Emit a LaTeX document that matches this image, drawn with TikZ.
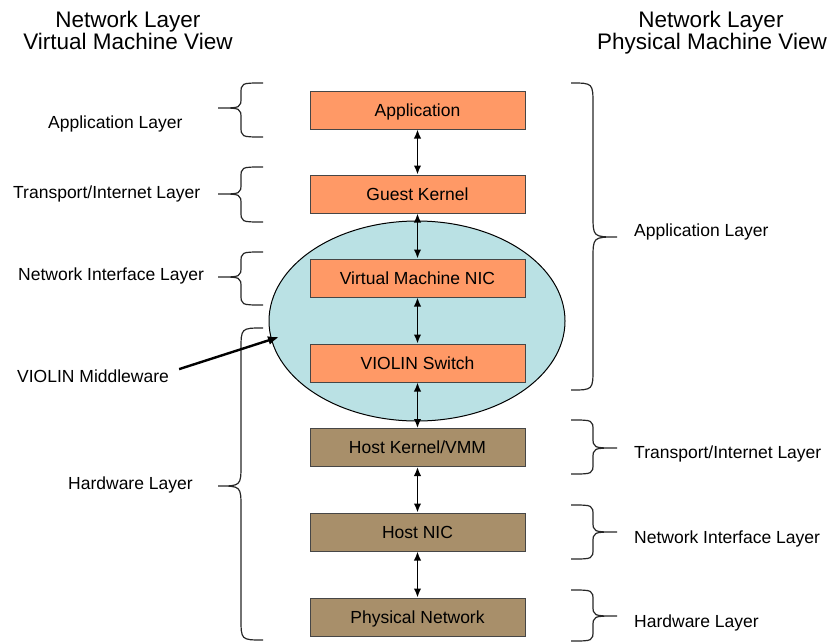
\documentclass[tikz,border=0pt]{standalone}
\usepackage{fontspec}
\setmainfont{Liberation Sans}
\usetikzlibrary{shapes.geometric,arrows.meta}

\definecolor{guestfill}{RGB}{255,153,102}
\definecolor{hostfill}{RGB}{168,143,106}
\definecolor{violinfill}{RGB}{186,225,228}
\definecolor{boxline}{RGB}{70,70,70}

% vertical curly brace: end x, spine x, tip x, top y, tip y, bottom y, curl radius
\newcommand{\VBrace}[7]{%
  \draw[bracestyle] (#1,#4) .. controls (#2,#4) .. (#2,#4+#7)
    -- (#2,#5-#7) .. controls (#2,#5) .. (#3,#5)
    .. controls (#2,#5) .. (#2,#5+#7)
    -- (#2,#6-#7) .. controls (#2,#6) .. (#1,#6);}

\tikzset{
  layerbox/.style={draw=boxline, line width=1pt, minimum width=215pt,
    minimum height=38pt, inner sep=0pt, text height=12.7pt, text depth=0pt,
    font=\fontsize{17.5}{21}\selectfont},
  guestbox/.style={layerbox, fill=guestfill},
  hostbox/.style={layerbox, fill=hostfill},
  dblarrow/.style={line width=1.6pt,
    {Latex[length=9pt,width=7.5pt]}-{Latex[length=9pt,width=7.5pt]}},
  bracestyle/.style={line width=1.2pt, draw=black!85},
  lbl/.style={anchor=base west, inner sep=0pt, font=\fontsize{17.5}{21}\selectfont},
  hdr/.style={anchor=base, inner sep=0pt, font=\fontsize{22.5}{24}\selectfont},
}

\begin{document}
\begin{tikzpicture}[x=1pt, y=-1pt]
\useasboundingbox (0,0) rectangle (834,642);

% column headers
\node[hdr] (hl1) at (128,28) {Network Layer};
\node[hdr] (hl2) at (128,49) {Virtual Machine View};
\node[hdr] (hr1) at (711,28) {Network Layer};
\node[hdr] (hr2) at (712,49) {Physical Machine View};

% VIOLIN middleware region
\node[ellipse, draw=black, line width=1pt, fill=violinfill,
      minimum width=296pt, minimum height=200pt, inner sep=0pt] (violin) at (417,321) {};

% protocol stack
\node[guestbox] (app)    at (417.5,110)   {Application};
\node[guestbox] (guest)  at (417.5,194)   {Guest Kernel};
\node[guestbox] (vmnic)  at (417.5,278)   {Virtual Machine NIC};
\node[guestbox] (switch) at (417.5,363)   {VIOLIN Switch};
\node[hostbox]  (hostk)  at (417.5,447.5) {Host Kernel/VMM};
\node[hostbox]  (hostnic) at (417.5,532)  {Host NIC};
\node[hostbox]  (phys)   at (417.5,617)   {Physical Network};

\draw[dblarrow] (app) -- (guest);
\draw[dblarrow] (guest) -- (vmnic);
\draw[dblarrow] (vmnic) -- (switch);
\draw[dblarrow] (switch) -- (hostk);
\draw[dblarrow] (hostk) -- (hostnic);
\draw[dblarrow] (hostnic) -- (phys);

% virtual machine view
\VBrace{263}{241}{218}{83}{108}{137}{11}
\VBrace{263}{241}{218}{167}{194}{222}{11}
\VBrace{263}{241}{218}{252}{277}{305}{11}
\VBrace{263}{241}{218}{328}{486}{640}{22}
\node[lbl] (vapp)  at (48,128)  {Application Layer};
\node[lbl] (vtra)  at (13,198)  {Transport/Internet Layer};
\node[lbl] (vnet)  at (18,280)  {Network Interface Layer};
\node[lbl] (vhw)   at (68,489)  {Hardware Layer};

% middleware pointer
\node[lbl] (mw) at (17,382) {VIOLIN Middleware};
\coordinate (mwtip) at (279,337);
\draw[line width=2.4pt, -{Latex[length=11pt,width=9pt]}]
  ([xshift=10pt]mw.north east) -- (mwtip);

% physical machine view
\VBrace{571}{593}{617}{83}{237}{390}{22}
\VBrace{571}{593}{617}{420}{448}{474}{11}
\VBrace{571}{593}{617}{505}{532}{559}{11}
\VBrace{571}{593}{617}{590}{616}{641}{11}
\node[lbl] (papp) at (634,236) {Application Layer};
\node[lbl] (ptra) at (634,458) {Transport/Internet Layer};
\node[lbl] (pnet) at (634,543) {Network Interface Layer};
\node[lbl] (phw)  at (634,627) {Hardware Layer};
\end{tikzpicture}
\end{document}
